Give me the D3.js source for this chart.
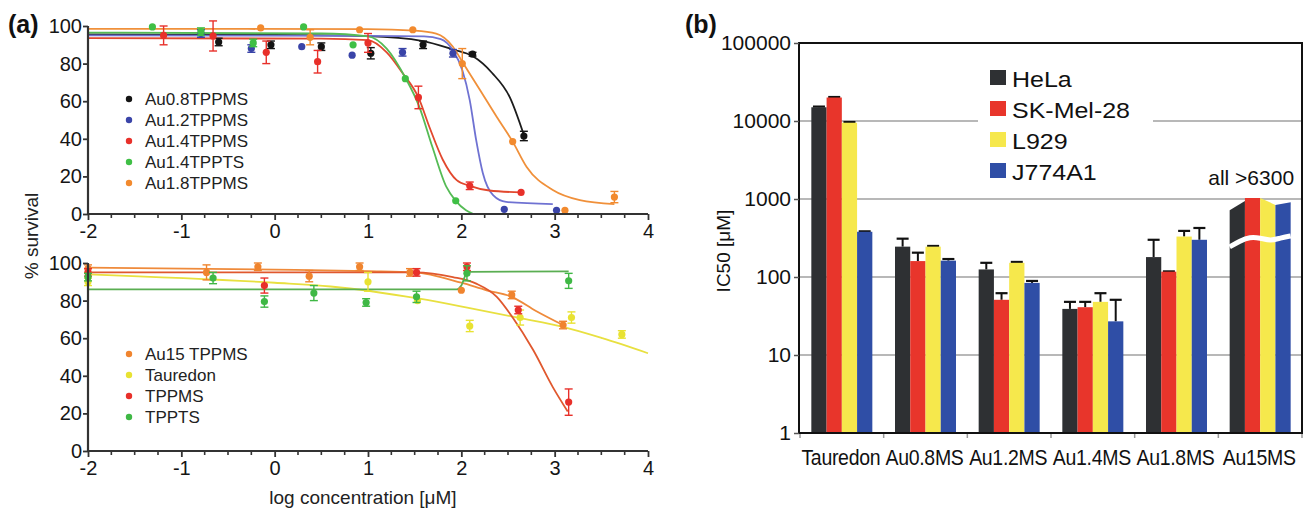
<!DOCTYPE html>
<html><head><meta charset="utf-8">
<script src="https://cdn.jsdelivr.net/npm/d3@7"></script>
<style>
body{margin:0;background:#fff}
svg{display:block}
text{font-family:"Liberation Sans",Arial,Helvetica,sans-serif}
</style>
</head><body>
<svg id="c" width="1308" height="509"></svg>
<script>
// ---------------- Panel (a) data ----------------
const xTicksA = [-2, -1, 0, 1, 2, 3, 4];
const yTicksA = [0, 20, 40, 60, 80, 100];

const topNames = ["Au0.8TPPMS", "Au1.2TPPMS", "Au1.4TPPMS", "Au1.4TPPTS", "Au1.8TPPMS"];
const topDotColors = ["#141414", "#3a44a8", "#e8302a", "#3fbf45", "#f28a2e"];
const topLineColors = ["#1c1c1c", "#6f72d2", "#e2482e", "#55bb55", "#f0903a"];

// points: [log conc, % survival, error]
const au08Pts = [[-0.6,91.5,2],[-0.04,90,2],[0.5,89,2],[1.03,85.5,3],[1.59,90,2],[2.12,85,1],[2.67,41.5,2.5]];
const au12Pts = [[-0.79,96,2],[-0.25,88,2],[0.29,89,0],[0.83,84.5,0],[1.37,86,2],[1.91,85.5,2],[2.46,2.5,0],[3.02,2,0]];
const au14msPts = [[-1.19,95,5],[-0.66,94.7,8],[-0.09,86,6],[0.46,81,6],[1.0,91,5],[1.54,62,6],[2.09,15,2],[2.64,11.5,0]];
const au14tsPts = [[-1.31,99.5,0],[-0.79,97,2],[-0.23,91,2],[0.31,99.5,0],[0.84,90,0],[1.40,72,0],[1.94,7,0]];
const au18Pts = [[-0.15,99,0],[0.38,94,4],[0.91,98,0],[1.48,98,0],[2.01,80,8],[2.55,38.5,0],[3.11,2,0],[3.64,9,3]];

// fitted curves: [log conc, % survival]
const au08Fit = [[-2,95.5],[0,95.3],[1,94.6],[1.59,92],[1.91,87.5],[2.12,84],[2.33,75],[2.52,62],[2.67,42]];
const au12Fit = [[-2,95],[1,94.8],[1.6,94.5],[1.78,93],[1.91,87],[2.01,76.6],[2.09,60.6],[2.16,39],[2.23,21.8],[2.34,10],[2.48,6.4],[2.98,5.3]];
const au14msFit = [[-2,93.5],[0.5,93.3],[1.0,92.5],[1.2,86],[1.37,75],[1.54,62],[1.66,46],[1.80,29],[1.95,18],[2.09,15],[2.30,12.5],[2.64,11.5]];
const au14tsFit = [[-2,96.5],[0.5,96],[1.0,94.5],[1.2,88],[1.40,72.5],[1.55,57],[1.69,35.6],[1.84,14.4],[1.94,7],[2.05,2],[2.13,0]];
const au18Fit = [[-2,98.5],[1.0,98.3],[1.5,97.5],[1.73,96],[1.91,89],[2.01,81],[2.2,66],[2.38,51.6],[2.55,38.5],[2.70,25],[2.98,12.8],[3.27,7.4],[3.64,5.3]];

const botNames = ["Au15 TPPMS", "Tauredon", "TPPMS", "TPPTS"];
const botDotColors = ["#f0842e", "#e8e232", "#e8302a", "#3fb845"];
const botLineColors = ["#ef8a3a", "#e8e040", "#e0582e", "#5aae52"];

const au15Pts = [[-2,97,2],[-0.73,95,4],[-0.18,98,2],[0.37,93,3],[0.91,98,2],[1.45,95,2],[2.0,85.5,0],[2.54,83,2],[3.09,67,2]];
const taurPts = [[-2,90,2],[1.0,90,5],[1.53,80,0],[2.09,66.5,3],[2.63,71,4],[3.18,71,3],[3.72,62,2]];
const tppmsPts = [[-2,95,2],[-0.11,88,4],[1.52,95,2],[2.06,98,2],[2.61,75,2],[3.15,26,7]];
const tpptsPts = [[-2,92.5,2],[-0.66,92,3],[-0.11,79.5,3],[0.42,84,4],[0.98,79,2],[1.52,82,3],[2.06,94.5,4],[3.15,90.5,4]];

const au15Fit = [[-2,97.5],[0,96.5],[1,95.7],[1.5,95],[2.0,89.5],[2.27,85.5],[2.54,82],[2.8,74.5],[3.09,67]];
const taurFit = [[-2,94],[0,89.5],[0.6,87.5],[1.55,81],[2.09,76],[2.63,70.7],[3.09,66],[3.51,60],[4.0,52]];
const tppmsFit = [[-2,95],[0,95],[1.5,95],[1.91,92.5],[2.16,89],[2.38,82],[2.55,71],[2.77,53.7],[2.98,34],[3.14,21]];
const tpptsFit = [[-2,86],[1.95,86],[2.0,88],[2.04,93],[2.08,95.3],[3.15,95.5]];

// ---------------- Panel (b) data ----------------
const categories = ["Tauredon", "Au0.8MS", "Au1.2MS", "Au1.4MS", "Au1.8MS", "Au15MS"];
const cells = ["HeLa", "SK-Mel-28", "L929", "J774A1"];
const cellColors = ["#2e3033", "#e8352b", "#f6e84c", "#2f4ea6"];
const helaIC50 = [15000, 245, 125, 39, 180, 1000];
const skmelIC50 = [20000, 160, 51, 41, 117, 1030];
const l929IC50 = [9500, 245, 152, 48, 330, 1000];
const j774IC50 = [380, 162, 84, 27, 300, 900];
const helaErrTop = [15300, 310, 152, 48, 300, null];
const skmelErrTop = [20300, 205, 62, 48, 118, null];
const l929ErrTop = [9700, 250, 156, 62, 390, null];
const j774ErrTop = [385, 170, 89, 51, 425, null];
// Au15MS bars are drawn clipped with slanted tops (values all >6300)
const au15TopLeft = [720, 1030, 1030, 840];
const au15TopRight = [940, 1030, 840, 910];
const au15BreakValue = 290;
const yTicksB = [1, 10, 100, 1000, 10000, 100000];

// ---------------- Drawing ----------------
const svg = d3.select("#c");

// Panel labels
svg.append("text").attr("x", 8).attr("y", 33).attr("font-size", 25).attr("font-weight", "bold").attr("fill", "#111").text("(a)");
svg.append("text").attr("x", 685).attr("y", 33).attr("font-size", 25).attr("font-weight", "bold").attr("fill", "#111").text("(b)");

const xA = d3.scaleLinear().domain([-2, 4]).range([88, 648]);
const yTop = d3.scaleLinear().domain([0, 100]).range([214, 26]);
const yBot = d3.scaleLinear().domain([0, 100]).range([451, 263]);

function drawPanelA(y, names, dotColors, lineColors, pts, fits, legendY) {
  const g = svg.append("g");
  const line = d3.line().x(d => xA(d[0])).y(d => y(d[1])).curve(d3.curveMonotoneX);
  fits.forEach((f, i) => {
    g.append("path").attr("d", line(f)).attr("fill", "none")
      .attr("stroke", lineColors[i]).attr("stroke-width", 1.8);
  });
  pts.forEach((p, i) => {
    const c = dotColors[i];
    p.forEach(d => {
      if (d[2] > 0) {
        const x = xA(d[0]);
        g.append("line").attr("x1", x).attr("x2", x).attr("y1", y(d[1] - d[2])).attr("y2", y(d[1] + d[2]))
          .attr("stroke", c).attr("stroke-width", 1.4);
        [d[1] - d[2], d[1] + d[2]].forEach(v => {
          g.append("line").attr("x1", x - 4).attr("x2", x + 4).attr("y1", y(v)).attr("y2", y(v))
            .attr("stroke", c).attr("stroke-width", 1.4);
        });
      }
      g.append("circle").attr("cx", xA(d[0])).attr("cy", y(d[1])).attr("r", 3.6).attr("fill", c);
    });
  });
  const ax = g.append("g").attr("transform", `translate(0,${y(0)})`);
  const minor = d3.range(-2, 4.001, 0.25).filter(v => Math.abs(v - Math.round(v)) > 0.01);
  ax.selectAll("line.minor").data(minor).join("line")
    .attr("x1", d => xA(d)).attr("x2", d => xA(d)).attr("y1", 0).attr("y2", 4)
    .attr("stroke", "#333").attr("stroke-width", 1.6);
  const axisX = d3.axisBottom(xA).tickValues(xTicksA).tickSize(6).tickPadding(4).tickFormat(d => String(d));
  ax.call(axisX);
  ax.select(".domain").attr("stroke", "#333").attr("stroke-width", 2.2).attr("d", `M${xA(-2)},0H${xA(4)}`);
  ax.selectAll(".tick line").attr("stroke", "#333").attr("stroke-width", 1.8);
  ax.selectAll(".tick text").attr("font-size", 20).attr("fill", "#151515").attr("font-family", "Liberation Sans, Arial, sans-serif");

  const ay = g.append("g").attr("transform", `translate(${xA(-2)},0)`);
  ay.call(d3.axisLeft(y).tickValues(yTicksA).tickSize(5).tickPadding(1));
  ay.select(".domain").attr("stroke", "#333").attr("stroke-width", 2.2).attr("d", `M0,${y(100)}V${y(0)}`);
  ay.selectAll(".tick line").attr("stroke", "#333").attr("stroke-width", 1.8);
  ay.selectAll(".tick text").attr("font-size", 20).attr("fill", "#151515").attr("font-family", "Liberation Sans, Arial, sans-serif");

  names.forEach((n, i) => {
    const ly = legendY + i * 21;
    g.append("circle").attr("cx", 129).attr("cy", ly).attr("r", 3.2).attr("fill", dotColors[i]);
    g.append("text").attr("x", 145).attr("y", ly + 6).attr("font-size", 17).attr("fill", "#222").text(n);
  });
}

drawPanelA(yTop, topNames, topDotColors, topLineColors,
  [au08Pts, au12Pts, au14msPts, au14tsPts, au18Pts],
  [au08Fit, au12Fit, au14msFit, au14tsFit, au18Fit], 99);
drawPanelA(yBot, botNames, botDotColors, botLineColors,
  [au15Pts, taurPts, tppmsPts, tpptsPts],
  [au15Fit, taurFit, tppmsFit, tpptsFit], 354);

svg.append("text").attr("x", 363).attr("y", 504).attr("text-anchor", "middle").attr("font-size", 19).attr("fill", "#222")
  .text("log concentration [μM]");
svg.append("text").attr("transform", "translate(38,236) rotate(-90)").attr("text-anchor", "middle").attr("font-size", 19).attr("fill", "#222")
  .text("% survival");

// ---------------- Panel (b) ----------------
const xB = d3.scaleBand().domain(categories).range([800, 1302]);
const xSub = d3.scaleBand().domain(cells).range([0, 61]);
const yB = d3.scaleLog().domain([1, 100000]).range([433, 43]);
const gB = svg.append("g");
const offs = (xB.bandwidth() - 61) / 2;

gB.selectAll("line.grid").data([10, 100, 1000, 10000]).join("line")
  .attr("x1", 799).attr("x2", 1302).attr("y1", d => yB(d)).attr("y2", d => yB(d))
  .attr("stroke", "#a0a0a0").attr("stroke-width", 1.6);
gB.append("rect").attr("x", 978).attr("y", 56).attr("width", 175).attr("height", 126).attr("fill", "#fff");

const series = [helaIC50, skmelIC50, l929IC50, j774IC50];
const errs = [helaErrTop, skmelErrTop, l929ErrTop, j774ErrTop];

categories.forEach((cat, ci) => {
  const gx = xB(cat) + offs;
  cells.forEach((cell, si) => {
    const x0 = gx + xSub(cell), x1 = x0 + xSub.bandwidth();
    if (cat === "Au15MS") {
      const tl = yB(au15TopLeft[si]), tr = yB(au15TopRight[si]);
      gB.append("path").attr("d", `M${x0},${yB(1)}V${tl}L${x1},${tr}V${yB(1)}Z`).attr("fill", cellColors[si]);
    } else {
      const v = series[si][ci];
      const e = errs[si][ci];
      if (e) {
        const cx = (x0 + x1) / 2;
        gB.append("line").attr("x1", cx).attr("x2", cx).attr("y1", yB(v)).attr("y2", yB(e)).attr("stroke", "#111").attr("stroke-width", 2);
        gB.append("line").attr("x1", cx - 6).attr("x2", cx + 6).attr("y1", yB(e)).attr("y2", yB(e)).attr("stroke", "#111").attr("stroke-width", 2.2);
      }
      gB.append("rect").attr("x", x0).attr("y", yB(v)).attr("width", x1 - x0).attr("height", yB(1) - yB(v)).attr("fill", cellColors[si]);
    }
  });
});

{
  const gx0 = xB("Au15MS") + offs, w = 61, yb = yB(au15BreakValue);
  const wave = [[0, 6], [0.17, 0], [0.33, -4], [0.5, -3], [0.67, 0], [0.83, -3], [1, -5]];
  const wl = d3.line().x(d => gx0 + d[0] * w).y(d => yb + d[1]).curve(d3.curveBasis);
  gB.append("path").attr("d", wl(wave)).attr("fill", "none").attr("stroke", "#fff").attr("stroke-width", 5);
}
gB.append("text").attr("x", xB("Au15MS") + xB.bandwidth() / 2 - 9).attr("y", 185).attr("text-anchor", "middle")
  .attr("font-size", 21).attr("fill", "#111").text("all >6300");

gB.append("rect").attr("x", 799).attr("y", 43).attr("width", 503).attr("height", 390)
  .attr("fill", "none").attr("stroke", "#111").attr("stroke-width", 2);

const ayB = gB.append("g").attr("transform", "translate(799,0)");
ayB.call(d3.axisLeft(yB).tickValues(yTicksB).tickFormat(d3.format("d")).tickSize(5).tickPadding(3));
ayB.select(".domain").remove();
ayB.selectAll(".tick line").attr("stroke", "#555").attr("stroke-width", 1.5);
ayB.selectAll(".tick text").attr("font-size", 21).attr("fill", "#111").attr("font-family", "Liberation Sans, Arial, sans-serif");

gB.selectAll("line.bt").data(d3.range(categories.length + 1)).join("line")
  .attr("x1", i => 800 + i * xB.bandwidth()).attr("x2", i => 800 + i * xB.bandwidth())
  .attr("y1", 434).attr("y2", 438).attr("stroke", "#999").attr("stroke-width", 1.5);
gB.selectAll("text.cat").data(categories).join("text")
  .attr("transform", d => `translate(${xB(d) + xB.bandwidth() / 2 - 1},465) scale(1,1.12)`)
  .attr("text-anchor", "middle")
  .attr("font-size", 19.5).attr("letter-spacing", "-0.3px").attr("fill", "#111").text(d => d);

svg.append("text").attr("transform", "translate(730,251) rotate(-90)").attr("text-anchor", "middle")
  .attr("font-size", 19).attr("fill", "#111").text("IC50 [μM]");

cells.forEach((c, i) => {
  const ly = 78 + i * 31;
  gB.append("rect").attr("x", 990).attr("y", ly - 8).attr("width", 16).attr("height", 15).attr("fill", cellColors[i]);
  gB.append("text").attr("transform", `translate(1012,${ly + 9}) scale(1,0.9)`)
    .attr("font-size", 25).attr("fill", "#111").text(c);
});
</script>
</body></html>
